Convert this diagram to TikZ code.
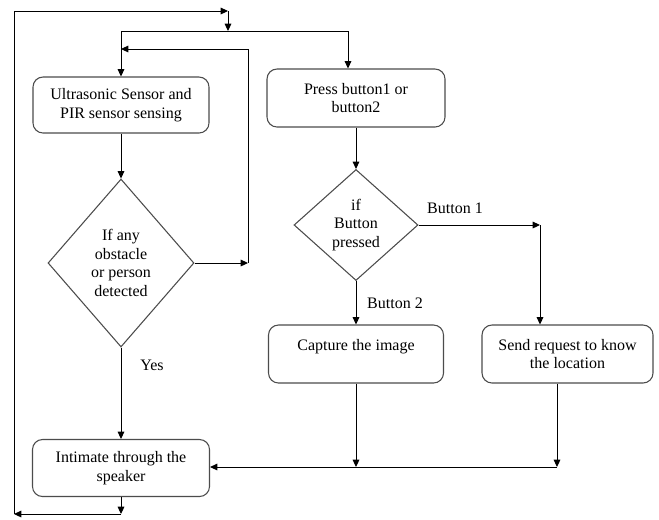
\documentclass[tikz,border=0pt]{standalone}
\usepackage{fontspec}
\setmainfont{Liberation Serif}
\usetikzlibrary{shapes.geometric,arrows.meta}
\begin{document}
\begin{tikzpicture}[x=0.75pt,y=-0.75pt,
  proc/.style={draw=black!70,line width=0.8pt,rounded corners=7.5pt,align=center,inner sep=0pt,font=\fontsize{12}{14}\selectfont},
  dec/.style={draw=black!70,line width=0.8pt,shape=diamond,align=center,inner sep=0pt,font=\fontsize{12}{14}\selectfont},
  conn/.style={line width=0.75pt,-{Triangle[length=5.5pt,width=5pt]}},
  plain/.style={line width=0.75pt},
  lbl/.style={font=\fontsize{12}{14}\selectfont,inner sep=0pt}]
\useasboundingbox[fill=white] (0,0) rectangle (659,519);

% nodes
\node[proc,minimum width=132pt,minimum height=42pt] (u) at (121,105) {Ultrasonic Sensor and\\PIR sensor sensing};
\node[dec,minimum width=109.5pt,minimum height=126pt] (d1) at (121,263) {If any\\obstacle\\or person\\detected};
\node[proc,minimum width=132.75pt,minimum height=42.75pt] (i) at (121,468) {Intimate through the\\speaker};
\node[proc,minimum width=133.5pt,minimum height=43.5pt] (p) at (356,98) {Press button1 or\\button2};
\node[dec,minimum width=93pt,minimum height=83.25pt] (d2) at (356,225) {if\\Button\\pressed};
\node[proc,minimum width=131.25pt,minimum height=43.5pt] (cap) at (356,354) {Capture the image\\\phantom{x}};
\node[proc,minimum width=128.25pt,minimum height=43.5pt] (snd) at (567.5,354) {Send request to know\\the location};

% labels
\node[lbl] (yes) at (152,365) {Yes};
\node[lbl] (b1lbl) at (455,208) {Button 1};
\node[lbl] (b2lbl) at (395,303) {Button 2};

% helper coordinates
\coordinate (r1) at (248,263);
\coordinate (r1t) at (248,49);
\coordinate (r1l) at (121,49);
\coordinate (bb) at (121,514);
\coordinate (bl) at (14,514);
\coordinate (tl) at (14,11);
\coordinate (tr) at (228,11);
\coordinate (tj) at (228,31);
\coordinate (jl) at (121,31);
\coordinate (jr) at (348,31);
\coordinate (r2) at (540,225);
\coordinate (m) at (557,467);

% connectors
\draw[conn] (u.south) -- (d1.north);
\draw[conn] (d1.east) -- (r1);
\draw[conn] (r1) -- (r1t) -- (r1l);
\draw[conn] (d1.south) -- (i.north);
\draw[conn] (i.south) -- (bb);
\draw[conn] (bb) -- (bl);
\draw[conn] (bl) -- (tl) -- (tr);
\draw[conn] (tr) -- (tj);
\draw[plain] (jl) -- (jr);
\draw[conn] (jl) -- (u.north);
\draw[conn] (jr) -- (jr |- p.north);
\draw[conn] (p.south) -- (d2.north);
\draw[conn] (d2.east) -- (r2);
\draw[conn] (r2) -- (r2 |- snd.north);
\draw[conn] (d2.south) -- (cap.north);
\draw[conn] (cap.south) -- (cap.south |- m);
\draw[conn] (m |- snd.south) -- (m);
\draw[conn] (m) -- (m -| i.east);
\end{tikzpicture}
\end{document}
